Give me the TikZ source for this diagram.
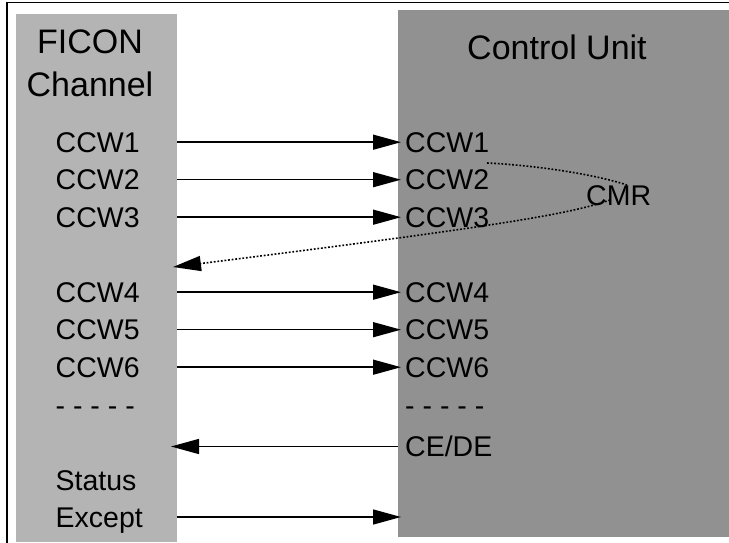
\documentclass[tikz,border=0pt]{standalone}
\usepackage{fontspec}
\setmainfont{Liberation Sans}
\usetikzlibrary{arrows.meta}
\definecolor{chgray}{HTML}{B4B4B4}
\definecolor{cugray}{HTML}{919191}
\begin{document}
\begin{tikzpicture}[x=1pt,y=-1pt,
  lbl/.style={inner sep=0pt,anchor=base west,font=\fontsize{28.5}{34}\selectfont},
  ttl/.style={inner sep=0pt,anchor=base,font=\fontsize{34}{40}\selectfont},
  panel/.style={inner sep=0pt,anchor=north west,draw=none},
  arr/.style={line width=1.4pt,-{Triangle[length=28pt,width=15pt]}},
  dotline/.style={line width=1.6pt,dash pattern=on 1.8pt off 1.8pt},
  frame/.style={line width=1.4pt}]
\useasboundingbox (0,0) rectangle (729,543);
% panels
\node[panel,fill=chgray,minimum width=161pt,minimum height=528pt] (chan) at (16,14) {};
\node[panel,fill=cugray,minimum width=331pt,minimum height=527pt] (cu) at (398,10) {};
\draw[frame] (7,543) -- (7,2.7) -- (729,2.7);
% titles
\node[ttl] (t1) at (90,54) {FICON};
\node[ttl] (t2) at (90,97) {Channel};
\node[ttl] (t3) at (557,60) {Control Unit};
% left labels
\node[lbl] (l1) at (55.5,152) {CCW1};
\node[lbl] (l2) at (55.5,189.5) {CCW2};
\node[lbl] (l3) at (55.5,227) {CCW3};
\node[lbl] (l4) at (55.5,302) {CCW4};
\node[lbl] (l5) at (55.5,339.5) {CCW5};
\node[lbl] (l6) at (55.5,377) {CCW6};
\node[lbl] (ld) at (55.5,415) {- - - - -};
\node[lbl] (status) at (55.5,490) {Status};
\node[lbl] (except) at (55.5,527) {Except};
% right labels
\node[lbl] (r1) at (405,152) {CCW1};
\node[lbl] (r2) at (405,189.5) {CCW2};
\node[lbl] (r3) at (405,227) {CCW3};
\node[lbl] (r4) at (405,302) {CCW4};
\node[lbl] (r5) at (405,339.5) {CCW5};
\node[lbl] (r6) at (405,377) {CCW6};
\node[lbl] (rd) at (405,415) {- - - - -};
\node[lbl] (cede) at (405,456) {CE/DE};
\node[lbl] (cmr) at (586,205) {CMR};
% coordinates
\coordinate (rx) at (401,0);
\coordinate (lx) at (171,0);
\coordinate (c1) at (487,163);
\coordinate (c2) at (627,185);
\coordinate (c3) at (610,200);
\coordinate (c4) at (173,267);
\coordinate (ye) at (0,517);
\coordinate (yc) at (0,446.5);
% connectors
\foreach \i in {1,...,6}{
  \draw[arr] (chan.east |- l\i) -- (rx |- r\i);
}
\draw[arr] (cu.west |- yc) -- (lx |- yc);
\draw[arr] (chan.east |- ye) -- (rx |- ye);
\draw[dotline] (c1) .. controls (530,165) and (590,173) .. (c2);
\draw[dotline,-{Triangle[length=28pt,width=15pt]}] (c3) .. controls (570,214) and (500,226) .. (c4);
\end{tikzpicture}
\end{document}
